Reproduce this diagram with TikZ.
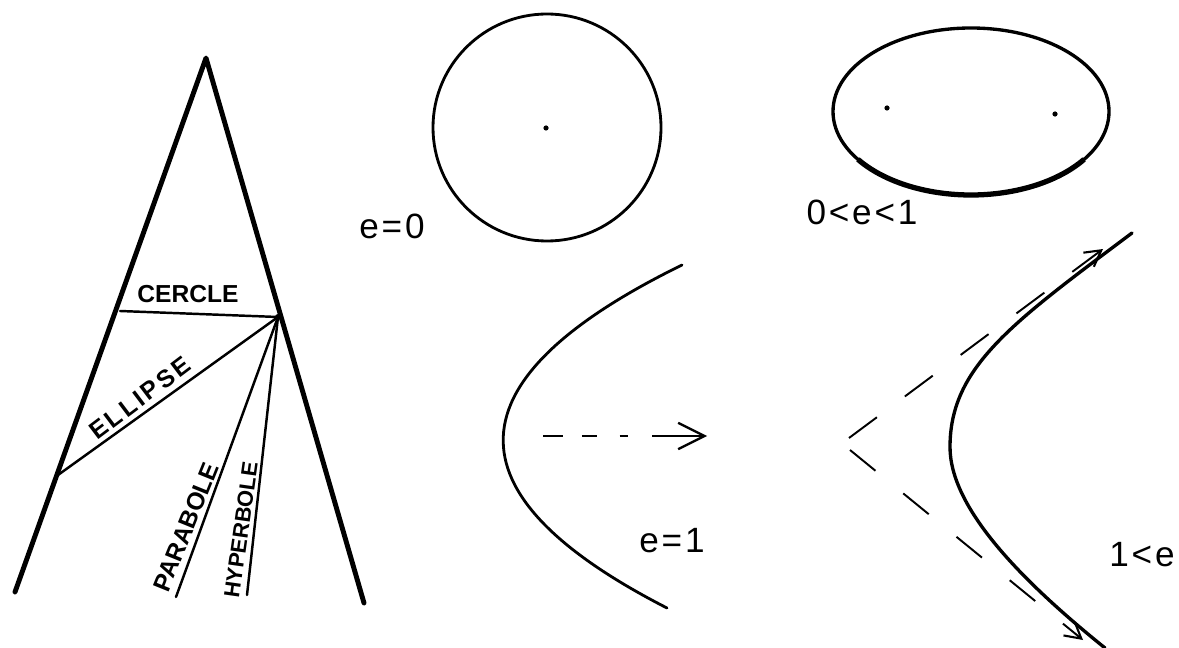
\documentclass[tikz,border=0pt]{standalone}
\usepackage{fontspec}
\setmainfont{Liberation Sans}
\usetikzlibrary{arrows.meta}
\begin{document}
\begin{tikzpicture}[x=0.02cm,y=-0.02cm,
  leg/.style={line width=2.8pt, line cap=round, line join=round},
  ray/.style={line width=1.4pt, line cap=round},
  curve/.style={line width=1.6pt, line cap=round},
  hcurve/.style={line width=1.9pt, line cap=round},
  lbl/.style={font=\bfseries\fontsize{14}{14}\selectfont, inner sep=0pt},
  eq/.style={font=\addfontfeatures{LetterSpace=8}\fontsize{20}{20}\selectfont, inner sep=0pt},
  axisarrow/.style={line width=1.3pt, dash pattern=on 11.3pt off 10.8pt on 8.5pt off 13pt on 4.5pt off 14.2pt on 40pt,
    -{Straight Barb[length=15pt,width=15pt,line width=1.3pt]}},
  asym/.style={line width=1.1pt, -{Straight Barb[length=9pt,width=10pt,line width=1.2pt]}},
  focus/.style={fill=black}
]
\useasboundingbox (0,0) rectangle (1179,648);

% ---- triangle (cone section) ----
\coordinate (apex) at (206,58);
\coordinate (lb) at (15,592);
\coordinate (rb) at (364,603);
\coordinate (hub) at (278,317);
\coordinate (cl) at (120,311);
\coordinate (el) at (58,475);
\coordinate (pb) at (176,597);
\coordinate (hb) at (247,595);
\draw[leg] (lb) -- (apex) -- (rb);
\draw[ray] (cl) -- (hub);
\draw[ray] (el) -- (hub);
\draw[ray] (pb) -- (hub);
\draw[ray] (hb) -- (hub);
\fill (hub) circle[radius=3];

\node[lbl] (cercle) at (188,294) {CERCLE};
\node[lbl, rotate=37] (ellipse) at (140,398) {\addfontfeatures{LetterSpace=11}ELLIPSE};
\node[lbl, rotate=68] (parabole) at (186,527) {PARABOLE};
\node[lbl, rotate=82, font=\bfseries\fontsize{12.5}{12.5}\selectfont] (hyperbole) at (241,530) {HYPERBOLE};

% ---- circle ----
\draw[curve] (547,127.5) ellipse[x radius=114, y radius=113.5];
\fill (546,128) circle[radius=2.6];
\node[eq] (e0) at (392,226) {e=0};

% ---- ellipse ----
\draw[hcurve] (971,111.5) ellipse[x radius=138, y radius=83.5];
\draw[line width=3pt] ([shift={(35:138 and 83.5)}]971,111.5) arc[start angle=35, end angle=145, x radius=138, y radius=83.5];
\fill[focus] (887,108) circle[radius=2.6];
\fill[focus] (1055,114) circle[radius=2.6];
\node[eq] (e01) at (862,212) {0<e<1};

% ---- parabola ----
\coordinate (ptop) at (682,265);
\coordinate (pbot) at (667,608);
\coordinate (pc1) at (448.7,379.3);
\coordinate (pc2) at (443.7,493.7);
\draw[curve] (ptop) .. controls (pc1) and (pc2) .. (pbot);
\coordinate (ax0) at (543,436);
\coordinate (ax1) at (707,436);
\draw[axisarrow] (ax0) -- (ax1);
\node[eq] (e1) at (672,541) {e=1};

% ---- hyperbola ----
\coordinate (hv) at (950,447);
\coordinate (htop) at (1132,233);
\coordinate (hbot) at (1105,648);
\draw[hcurve] (htop) .. controls (1012,323) and (950,367) .. (hv)
  .. controls (950,507) and (1019,578.7) .. (hbot);
\coordinate (hc1) at (849,438);
\coordinate (hu) at (1103,249);
\coordinate (hc2) at (850,450);
\coordinate (hd) at (1083,640);
\draw[asym, dash pattern=on 19.8pt off 19.8pt] (hc1) -- (hu);
\draw[asym, dash pattern=on 18.7pt off 20.4pt] (hc2) -- (hd);
\node[eq] (e2) at (1142,555) {1<e};
\end{tikzpicture}
\end{document}
